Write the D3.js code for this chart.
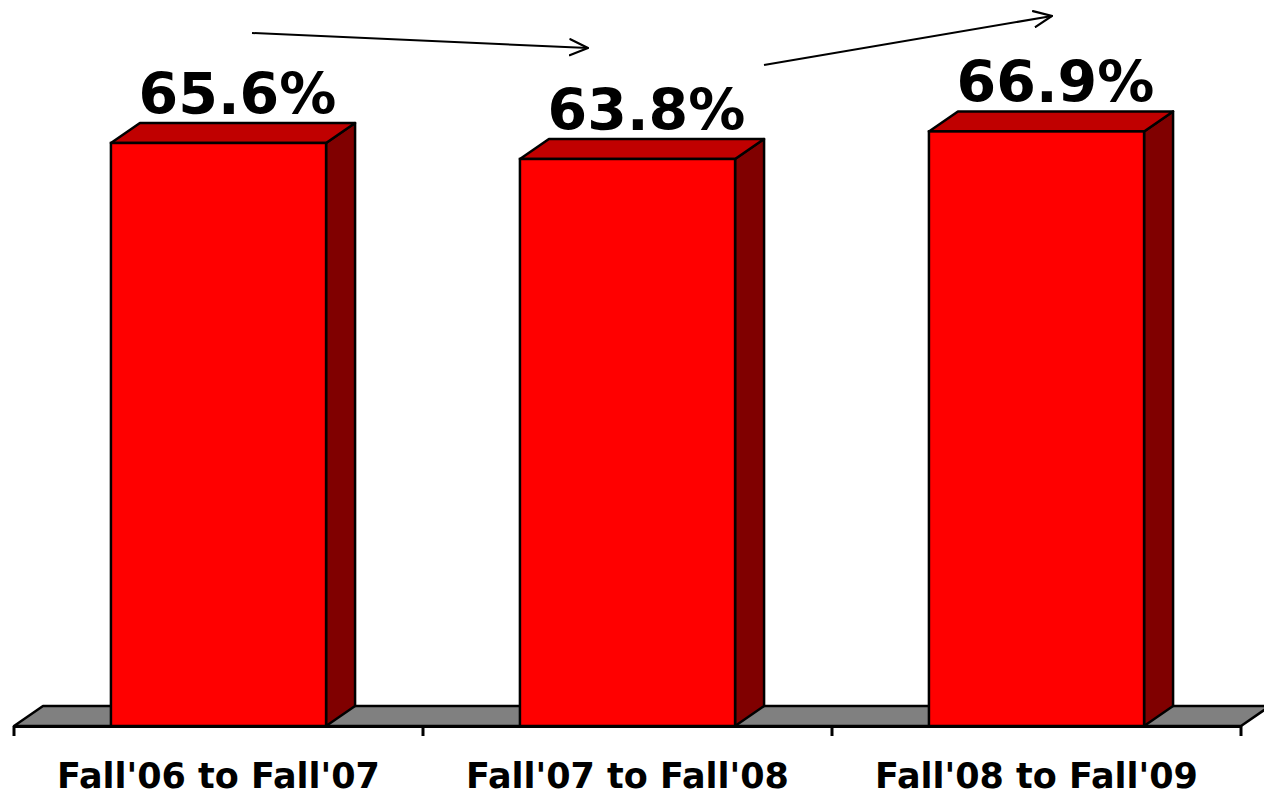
<!DOCTYPE html>
<html>
<head>
<meta charset="utf-8">
<script src="https://cdn.jsdelivr.net/npm/d3@7"></script>
<style>
  body { margin: 0; background: #fff; }
  svg { display: block; }
  .val { font-family: "Comic Sans MS", "DejaVu Sans", sans-serif; font-weight: bold; font-size: 57px; }
  .cat { font-family: "Comic Sans MS", "DejaVu Sans", sans-serif; font-weight: bold; font-size: 35px; }
</style>
</head>
<body>
<div id="chart-div"></div>
<script>
// data
var categories = ["Fall'06 to Fall'07", "Fall'07 to Fall'08", "Fall'08 to Fall'09"];
var values = [65.6, 63.8, 66.9];
var valueLabels = ["65.6%", "63.8%", "66.9%"];

var width = 1264, height = 797;
var depthX = 29, depthY = -20;

var svg = d3.select('#chart-div')
    .append('svg')
    .attr("width", width)
    .attr("height", height);

var x = d3.scaleBand()
    .domain(categories)
    .range([14, 1241])
    .padding(0);

var y = d3.scaleLinear()
    .domain([0, 80])
    .range([726, 15]);

var barW = x.bandwidth() * 0.526;

// floor
var y0 = y(0);
svg.append("path")
    .attr("d", "M" + x.range()[0] + "," + y0 + " L" + (x.range()[0] + depthX) + "," + (y0 + depthY) +
               " L" + (x.range()[1] + depthX) + "," + (y0 + depthY) + " L" + x.range()[1] + "," + y0 + " Z")
    .style("fill", "#808080")
    .style("stroke", "#000")
    .style("stroke-width", 2.5)
    .style("stroke-linejoin", "round");

// x axis
var xAxis = d3.axisBottom(x).tickSize(0).tickFormat("");
var gx = svg.append("g")
    .attr("transform", "translate(0," + y0 + ")")
    .call(xAxis);
gx.select(".domain").attr("stroke", "#000").attr("stroke-width", 3);
// tick marks on band edges
var edges = categories.map(function(d) { return x(d); }).concat([x.range()[1]]);
gx.selectAll(".edge")
    .data(edges)
    .enter().append("line")
    .attr("x1", function(d) { return d; })
    .attr("x2", function(d) { return d; })
    .attr("y1", 0)
    .attr("y2", 10)
    .attr("stroke", "#000")
    .attr("stroke-width", 3);

// bars
var bar = svg.selectAll(".bar")
    .data(values)
    .enter().append("g")
    .attr("class", "bar")
    .attr("transform", function(d, i) { return "translate(" + (x(categories[i]) + (x.bandwidth() - barW) / 2) + ",0)"; });

// side
bar.append("path")
    .attr("d", function(d) {
        return "M" + barW + "," + y(d) + " L" + (barW + depthX) + "," + (y(d) + depthY) +
               " L" + (barW + depthX) + "," + (y0 + depthY) + " L" + barW + "," + y0 + " Z";
    })
    .style("fill", "#800000")
    .style("stroke", "#000")
    .style("stroke-width", 2.5)
    .style("stroke-linejoin", "round");

// top
bar.append("path")
    .attr("d", function(d) {
        return "M0," + y(d) + " L" + depthX + "," + (y(d) + depthY) +
               " L" + (barW + depthX) + "," + (y(d) + depthY) + " L" + barW + "," + y(d) + " Z";
    })
    .style("fill", "#C00000")
    .style("stroke", "#000")
    .style("stroke-width", 2.5)
    .style("stroke-linejoin", "round");

// front
bar.append("rect")
    .attr("x", 0)
    .attr("y", function(d) { return y(d); })
    .attr("width", barW)
    .attr("height", function(d) { return y0 - y(d); })
    .style("fill", "#FF0000")
    .style("stroke", "#000")
    .style("stroke-width", 2.5);

// value labels
bar.append("text")
    .attr("class", "val")
    .attr("x", barW / 2 + 19)
    .attr("y", function(d) { return y(d) + depthY - 9; })
    .attr("text-anchor", "middle")
    .text(function(d, i) { return valueLabels[i]; });

// category labels
svg.selectAll(".cat")
    .data(categories)
    .enter().append("text")
    .attr("class", "cat")
    .attr("x", function(d) { return x(d) + x.bandwidth() / 2; })
    .attr("y", 788)
    .attr("text-anchor", "middle")
    .text(function(d) { return d; });

// trend arrows
var defs = svg.append("defs");
defs.append("marker")
    .attr("id", "arrow")
    .attr("viewBox", "0 0 20 20")
    .attr("refX", 19)
    .attr("refY", 10)
    .attr("markerWidth", 20)
    .attr("markerHeight", 20)
    .attr("markerUnits", "userSpaceOnUse")
    .attr("orient", "auto")
    .append("path")
    .attr("d", "M1,2 L19,10 L1,18")
    .style("fill", "none")
    .style("stroke", "#000")
    .style("stroke-width", 2.2)
    .style("stroke-linecap", "round");

var arrows = [
    {x1: 252, y1: 33, x2: 588, y2: 48},
    {x1: 764, y1: 65, x2: 1052, y2: 16}
];
svg.selectAll(".trend")
    .data(arrows)
    .enter().append("line")
    .attr("class", "trend")
    .attr("x1", function(d) { return d.x1; })
    .attr("y1", function(d) { return d.y1; })
    .attr("x2", function(d) { return d.x2; })
    .attr("y2", function(d) { return d.y2; })
    .attr("stroke", "#000")
    .attr("stroke-width", 2)
    .attr("marker-end", "url(#arrow)");
</script>
</body>
</html>
